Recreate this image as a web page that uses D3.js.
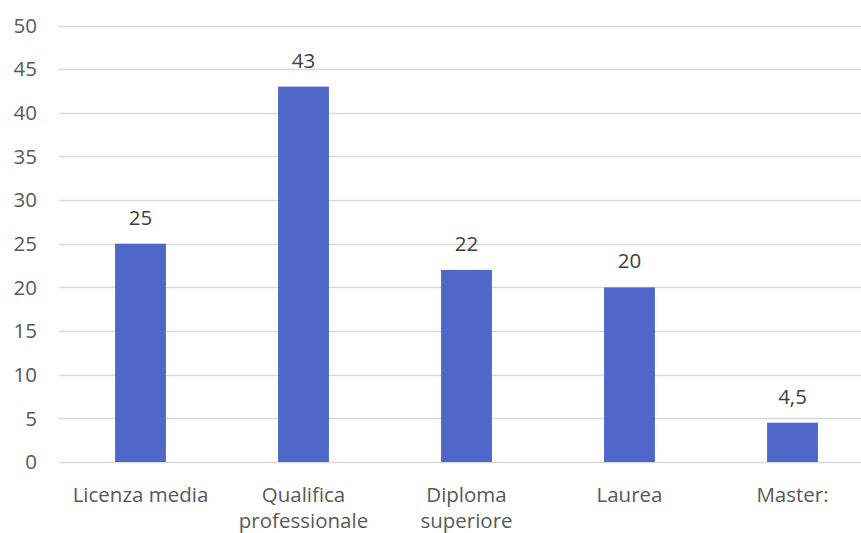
<!DOCTYPE html>
<html>
<head>
<meta charset="utf-8">
<script src="https://cdn.jsdelivr.net/npm/d3@7"></script>
<style>
  html, body { margin: 0; padding: 0; background: #ffffff; }
  svg { display: block; font-family: "Open Sans", Lato, "Liberation Sans", sans-serif; }
</style>
</head>
<body>
<svg id="chart" width="861" height="533"></svg>
<script>
// Education level categories and their values
const categories = [["Licenza media"], ["Qualifica", "professionale"], ["Diploma", "superiore"], ["Laurea"], ["Master:"]];
const values = [25, 43, 22, 20, 4.5];
const valueLabels = ["25", "43", "22", "20", "4,5"];
const yTicks = [0, 5, 10, 15, 20, 25, 30, 35, 40, 45, 50];

const svg = d3.select("#chart");
const margin = { left: 59, right: -13, top: 25.5, bottom: 71 };
const width = 861, height = 533;
const fontSize = 20.5;

const x = d3.scaleBand()
  .domain(d3.range(values.length))
  .range([margin.left, width - margin.right])
  .paddingInner(0.688)
  .paddingOuter(0.344);

const y = d3.scaleLinear()
  .domain([0, 50])
  .range([height - margin.bottom, margin.top]);

// horizontal gridlines
svg.append("g")
  .selectAll("line")
  .data(yTicks)
  .join("line")
  .attr("x1", margin.left)
  .attr("x2", width)
  .attr("y1", d => Math.round(y(d)) + 0.5)
  .attr("y2", d => Math.round(y(d)) + 0.5)
  .attr("stroke", "#d9d9d9")
  .attr("stroke-width", 1.3);

// y axis tick labels
svg.append("g")
  .selectAll("text")
  .data(yTicks)
  .join("text")
  .attr("x", 37)
  .attr("y", d => y(d))
  .attr("dy", "0.35em")
  .attr("text-anchor", "end")
  .attr("fill", "#595959")
  .attr("font-size", fontSize)
  .text(d => d);

// bars
svg.append("g")
  .selectAll("rect")
  .data(values)
  .join("rect")
  .attr("x", (d, i) => x(i))
  .attr("width", x.bandwidth())
  .attr("y", d => y(d))
  .attr("height", d => y(0) - y(d))
  .attr("fill", "#4e67c8");

// value labels above the bars
svg.append("g")
  .selectAll("text")
  .data(values)
  .join("text")
  .attr("x", (d, i) => x(i) + x.bandwidth() / 2)
  .attr("y", d => y(d) - 19)
  .attr("text-anchor", "middle")
  .attr("fill", "#404040")
  .attr("font-size", fontSize)
  .text((d, i) => valueLabels[i]);

// category labels, wrapped onto two lines where needed
const cat = svg.append("g")
  .selectAll("text")
  .data(categories)
  .join("text")
  .attr("x", (d, i) => x(i) + x.bandwidth() / 2)
  .attr("y", 502)
  .attr("text-anchor", "middle")
  .attr("fill", "#595959")
  .attr("font-size", fontSize);

cat.selectAll("tspan")
  .data(d => d)
  .join("tspan")
  .attr("x", function () { return d3.select(this.parentNode).attr("x"); })
  .attr("dy", (d, i) => i === 0 ? 0 : 25.5)
  .text(d => d);
</script>
</body>
</html>
